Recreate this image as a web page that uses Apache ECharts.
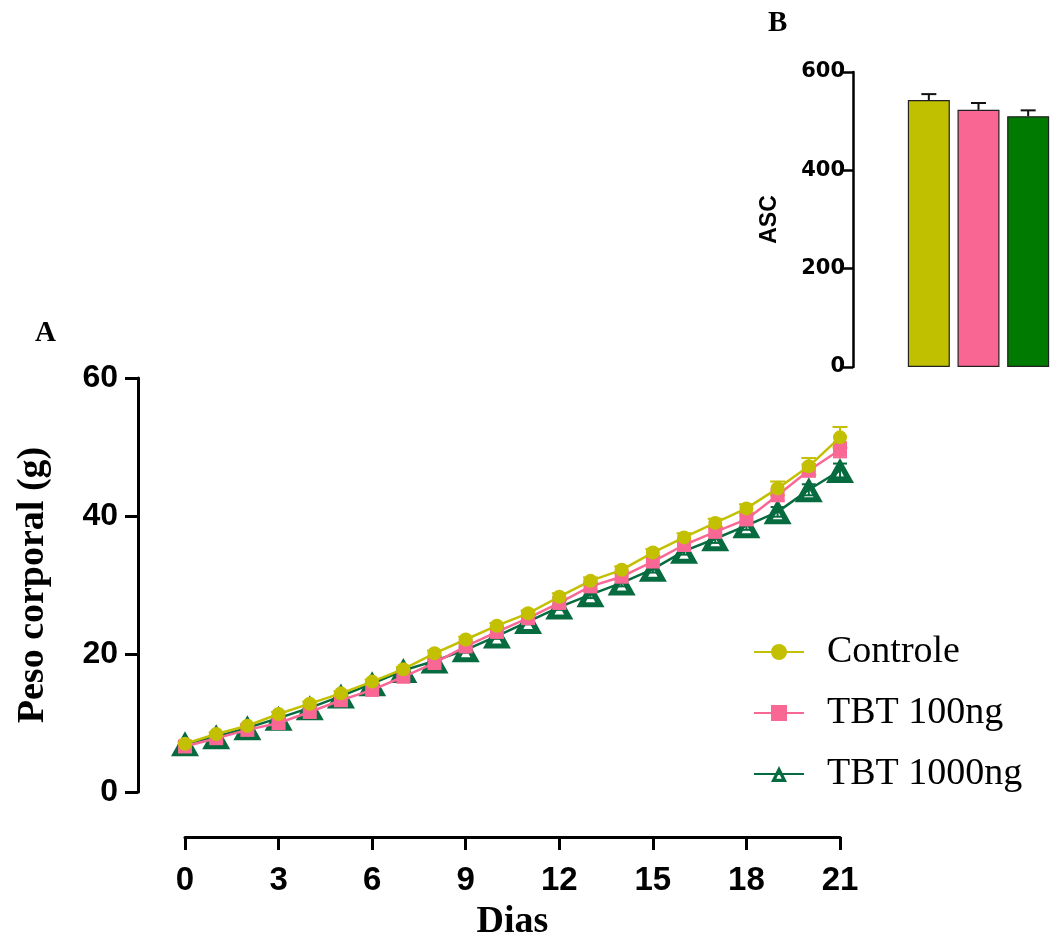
<!DOCTYPE html>
<html><head><meta charset="utf-8">
<script src="https://cdn.jsdelivr.net/npm/echarts@6/dist/echarts.min.js"></script>
<style>html,body{margin:0;padding:0;background:#fff}#c{width:1055px;height:944px}</style>
</head><body><div id="c"></div>
<script>
// ---- data ----
const days = [0,1,2,3,4,5,6,7,8,9,10,11,12,13,14,15,16,17,18,19,20,21];
const seriesNames = ['Controle', 'TBT 100ng', 'TBT 1000ng'];
const controle   = [7.0, 8.4, 9.6, 11.3, 12.8, 14.3, 16.0, 17.8, 20.1, 22.1, 24.1, 25.9, 28.3, 30.6, 32.2, 34.7, 36.9, 39.0, 41.1, 44.0, 47.2, 51.4];
const tbt100     = [6.6, 7.8, 9.0, 10.0, 11.6, 13.3, 14.8, 16.7, 18.7, 21.1, 23.2, 25.2, 27.4, 29.8, 31.2, 33.4, 35.8, 37.7, 39.5, 43.0, 46.6, 49.6];
const tbt1000    = [7.0, 8.0, 9.3, 10.7, 12.2, 13.9, 15.7, 17.6, 19.0, 20.6, 22.6, 24.7, 26.8, 28.6, 30.3, 32.3, 34.9, 36.7, 38.6, 40.6, 43.8, 46.6];
const controleErr = [0.2,0.2,0.2,0.3,0.3,0.3,0.3,0.3,0.4,0.4,0.4,0.4,0.5,0.5,0.5,0.5,0.6,0.6,0.6,1.0,1.2,1.5];
const tbt100Err   = [0.2,0.2,0.2,0.2,0.3,0.3,0.3,0.3,0.3,0.4,0.4,0.4,0.4,0.5,0.5,0.5,0.5,0.6,0.6,0.8,0.9,1.1];
const tbt1000Err  = [0.2,0.2,0.2,0.2,0.3,0.3,0.3,0.3,0.3,0.4,0.4,0.4,0.4,0.5,0.5,0.5,0.5,0.6,0.6,0.7,0.8,1.0];
const xTickInterval = 3;
const yTickInterval = 20;

const ascGroups = ['Controle', 'TBT 100ng', 'TBT 1000ng'];
const ascMean = [543, 523, 510];
const ascErr  = [12, 14, 12];

// ---- styles ----
const colCtrl = '#c2c000';
const colPink = '#f96894';
const colGreen = '#076b40';
const barColors = ['#c0c000', '#fa6694', '#007a00'];
const triPath = 'path://M50,0 L100,90 L0,90 Z M50,40 L33,72 L67,72 Z';

const pairs = (ys) => days.map((d, i) => [d, ys[i]]);
const errData = (ys, es) => days.map((d, i) => [d, ys[i] - es[i], ys[i] + es[i]]);

function errRender(color, cap, upOnly) {
  return function (params, api) {
    const x = api.value(0);
    const lo = api.coord([x, api.value(1)]);
    const hi = api.coord([x, api.value(2)]);
    const st = { stroke: color, lineWidth: 2 };
    const children = [
      { type: 'line', shape: { x1: lo[0], y1: lo[1], x2: hi[0], y2: hi[1] }, style: st },
      { type: 'line', shape: { x1: hi[0] - cap / 2, y1: hi[1], x2: hi[0] + cap / 2, y2: hi[1] }, style: st }
    ];
    if (!upOnly) children.push({ type: 'line', shape: { x1: lo[0] - cap / 2, y1: lo[1], x2: lo[0] + cap / 2, y2: lo[1] }, style: st });
    return { type: 'group', children };
  };
}

const chart = echarts.init(document.getElementById('c'), null, { renderer: 'canvas' });
chart.setOption({
  animation: false,
  backgroundColor: '#fff',
  graphic: [
    { type: 'text', left: 35, top: 319, style: { text: 'A', font: 'bold 29px "Liberation Serif"', fill: '#000' } },
    { type: 'text', left: 768, top: 9, style: { text: 'B', font: 'bold 29px "Liberation Serif"', fill: '#000' } }
  ],
  legend: {
    data: seriesNames,
    orient: 'vertical',
    left: 748,
    top: 628,
    itemWidth: 50,
    itemHeight: 20,
    itemGap: 23,
    textStyle: { fontFamily: 'Liberation Serif', fontSize: 38, color: '#000', lineHeight: 34, padding: [0, 0, 0, 18] }
  },
  grid: [
    { left: 185, right: 215, top: 378, bottom: 152 },
    { left: 904, right: 2, top: 72, bottom: 577 }
  ],
  xAxis: [
    {
      type: 'value', gridIndex: 0, min: 0, max: 21, interval: xTickInterval, offset: 45,
      name: 'Dias', nameLocation: 'middle', nameGap: 66,
      nameTextStyle: { fontFamily: 'Liberation Serif', fontWeight: 'bold', fontSize: 38, color: '#000' },
      axisLine: { show: true, onZero: false, lineStyle: { color: '#000', width: 3 } },
      axisTick: { show: true, length: 13, lineStyle: { color: '#000', width: 3 } },
      axisLabel: { color: '#000', fontFamily: 'Liberation Sans', fontWeight: 'bold', fontSize: 33, margin: 27 },
      splitLine: { show: false }
    },
    {
      type: 'category', gridIndex: 1, data: ascGroups,
      axisLine: { show: false }, axisTick: { show: false }, axisLabel: { show: false }
    }
  ],
  yAxis: [
    {
      type: 'value', gridIndex: 0, min: 0, max: 60, interval: yTickInterval, offset: 47,
      name: 'Peso corporal (g)', nameLocation: 'middle', nameGap: 86,
      nameTextStyle: { fontFamily: 'Liberation Serif', fontWeight: 'bold', fontSize: 38, color: '#000' },
      axisLine: { show: true, onZero: false, lineStyle: { color: '#000', width: 3 } },
      axisTick: { show: true, length: 13, lineStyle: { color: '#000', width: 3 } },
      axisLabel: { color: '#000', fontFamily: 'Liberation Sans', fontWeight: 'bold', fontSize: 32, margin: 20 },
      splitLine: { show: false }
    },
    {
      type: 'value', gridIndex: 1, min: 0, max: 600, interval: 200, offset: 51,
      name: 'ASC', nameLocation: 'middle', nameGap: 72,
      nameTextStyle: { fontFamily: 'Liberation Sans', fontWeight: 'bold', fontSize: 23, color: '#000' },
      axisLine: { show: true, onZero: false, lineStyle: { color: '#000', width: 2.5 } },
      axisTick: { show: true, length: 10, lineStyle: { color: '#000', width: 2.5 } },
      axisLabel: { color: '#000', fontFamily: 'DejaVu Sans', fontWeight: 'bold', fontSize: 21, margin: 8 },
      splitLine: { show: false }
    }
  ],
  series: [
    { type: 'custom', name: 'errG', xAxisIndex: 0, yAxisIndex: 0, z: 1, renderItem: errRender(colGreen, 14), data: errData(tbt1000, tbt1000Err), silent: true },
    { type: 'custom', name: 'errP', xAxisIndex: 0, yAxisIndex: 0, z: 1, renderItem: errRender(colPink, 14), data: errData(tbt100, tbt100Err), silent: true },
    { type: 'custom', name: 'errC', xAxisIndex: 0, yAxisIndex: 0, z: 1, renderItem: errRender(colCtrl, 15), data: errData(controle, controleErr), silent: true },
    {
      type: 'line', name: 'TBT 1000ng', xAxisIndex: 0, yAxisIndex: 0, z: 2, data: pairs(tbt1000),
      symbol: triPath, symbolSize: [28, 25], symbolKeepAspect: false,
      lineStyle: { color: colGreen, width: 2.5 }, itemStyle: { color: colGreen }
    },
    {
      type: 'line', name: 'TBT 100ng', xAxisIndex: 0, yAxisIndex: 0, z: 3, data: pairs(tbt100),
      symbol: 'rect', symbolSize: 14,
      lineStyle: { color: colPink, width: 2.5 }, itemStyle: { color: colPink }
    },
    {
      type: 'line', name: 'Controle', xAxisIndex: 0, yAxisIndex: 0, z: 4, data: pairs(controle),
      symbol: 'circle', symbolSize: 14,
      lineStyle: { color: colCtrl, width: 2.5 }, itemStyle: { color: colCtrl }
    },
    {
      type: 'bar', name: 'ASC', xAxisIndex: 1, yAxisIndex: 1, barWidth: 42, z: 2,
      data: ascMean.map((v, i) => ({ value: v, itemStyle: { color: barColors[i], borderColor: '#222', borderWidth: 1.2 } }))
    },
    {
      type: 'custom', name: 'errB', xAxisIndex: 1, yAxisIndex: 1, z: 1,
      renderItem: errRender('#111', 15, true),
      data: ascMean.map((v, i) => [i, v, v + ascErr[i]]), silent: true
    }
  ]
});
</script></body></html>
